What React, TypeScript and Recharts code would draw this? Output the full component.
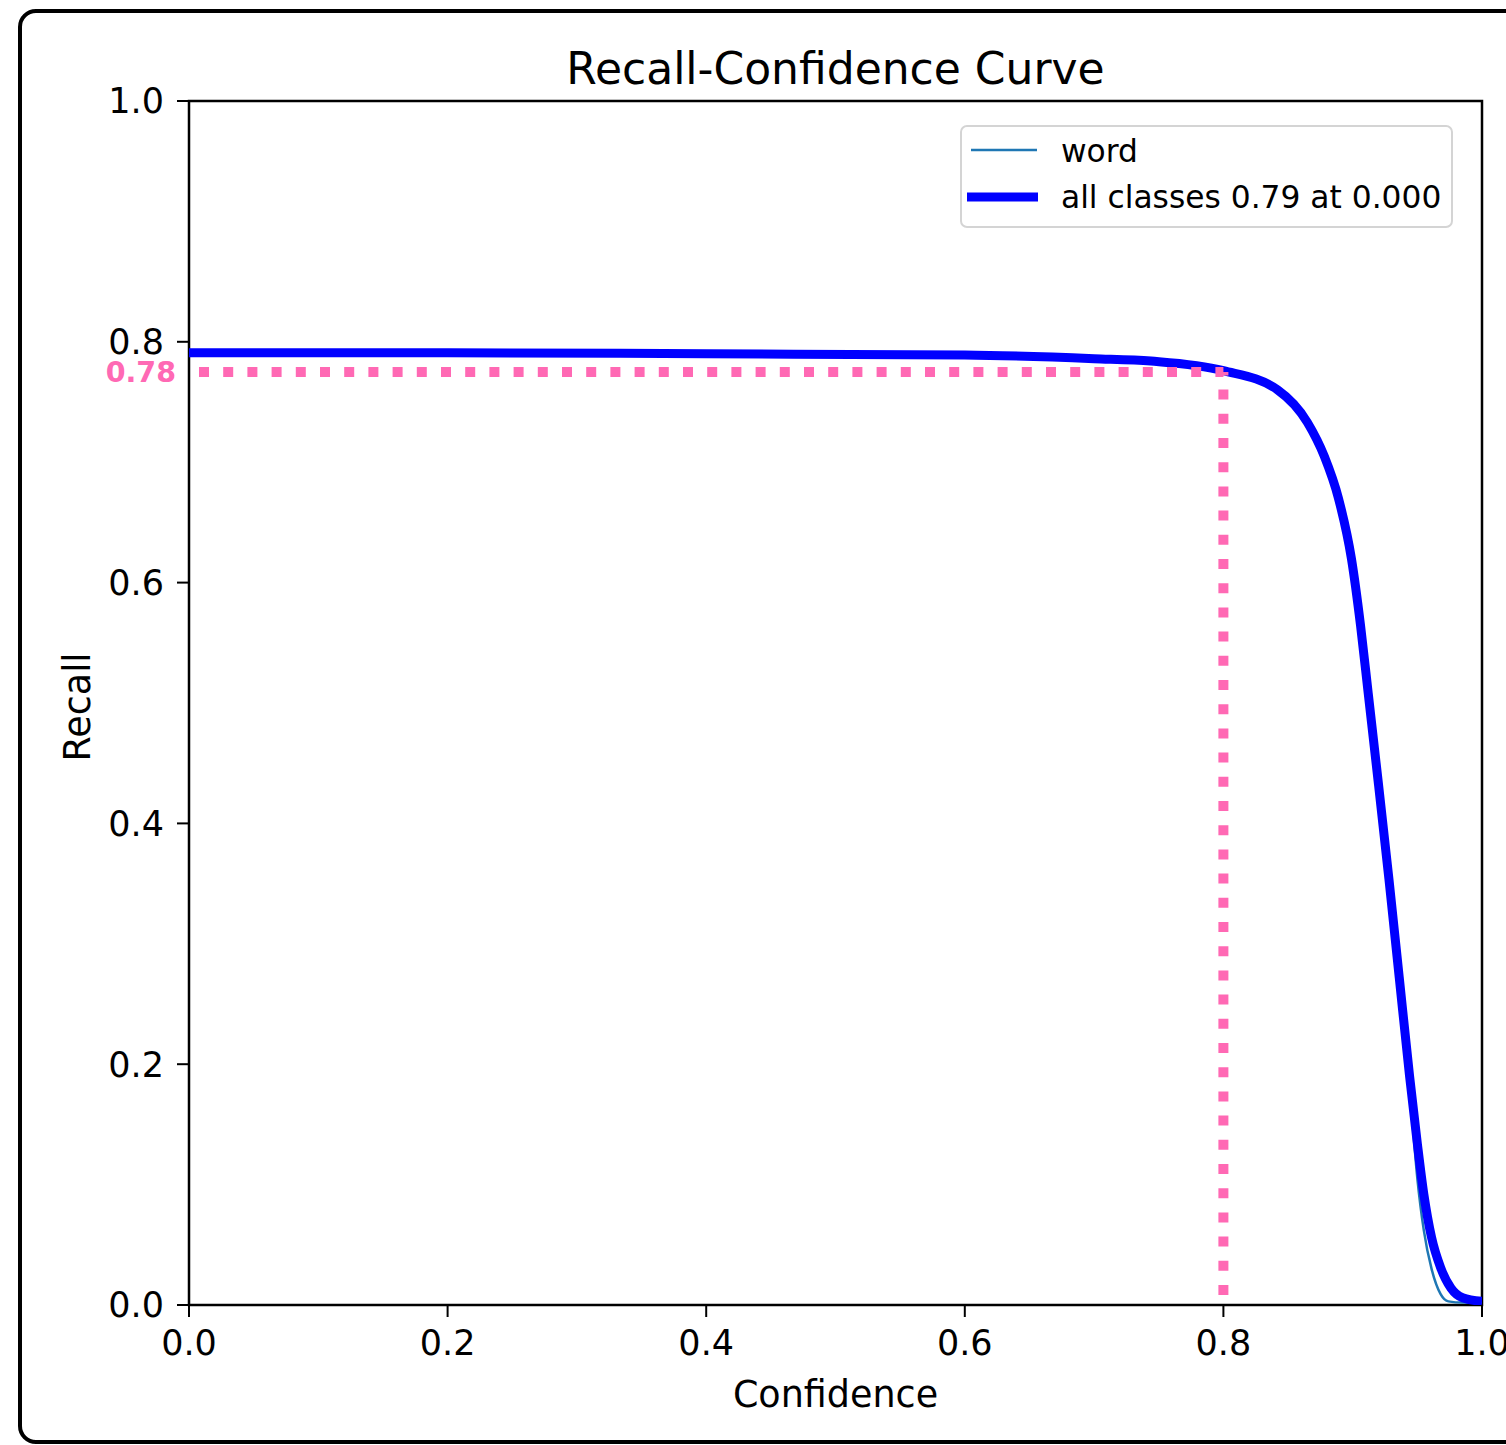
import React from "react";
import {
  LineChart,
  Line,
  XAxis,
  YAxis,
  Legend,
  ReferenceLine,
  ReferenceArea,
} from "recharts";

const FONT = '"DejaVu Sans", sans-serif';

// all classes curve
const allConf = [
  0, 0.2, 0.4, 0.6, 0.7, 0.744, 0.8, 0.842, 0.865, 0.878, 0.889, 0.899, 0.906,
  0.912, 0.92, 0.928, 0.936, 0.944, 0.95, 0.955, 0.961, 0.968, 0.976, 0.985,
  1.0,
];
const allRecall = [
  0.791, 0.791, 0.79, 0.789, 0.786, 0.784, 0.776, 0.76, 0.733, 0.705, 0.67,
  0.62, 0.565, 0.508, 0.432, 0.354, 0.272, 0.19, 0.134, 0.092, 0.056, 0.031,
  0.014, 0.006, 0.003,
];

// "word" class curve
const wordConf = [
  0, 0.2, 0.4, 0.6, 0.7, 0.744, 0.8, 0.842, 0.865, 0.878, 0.889, 0.899, 0.906,
  0.912, 0.92, 0.928, 0.936, 0.944, 0.95, 0.955, 0.961, 0.968, 0.974, 0.985,
  1.0,
];
const wordRecall = [
  0.791, 0.791, 0.79, 0.789, 0.786, 0.784, 0.776, 0.761, 0.735, 0.708, 0.673,
  0.622, 0.566, 0.508, 0.432, 0.354, 0.27, 0.182, 0.105, 0.062, 0.03, 0.009,
  0.003, 0.002, 0.002,
];

const ticks = [0, 0.2, 0.4, 0.6, 0.8, 1.0];

const markConf = 0.8;
const markRecall = 0.775;
const markLabel = "0.78";

const allLabel = "all classes 0.79 at 0.000";
const wordLabel = "word";

const allData = allConf.map((c, i) => ({ c, r: allRecall[i] }));
const wordData = wordConf.map((c, i) => ({ c, r: wordRecall[i] }));

function LegendBox() {
  return (
    <svg width={493} height={103} style={{ display: "block" }}>
      <rect
        x={1}
        y={1}
        width={491}
        height={101}
        rx={6}
        fill="#fff"
        stroke="#d4d4d4"
        strokeWidth={2}
      />
      <line x1={11} x2={77} y1={25} y2={25} stroke="#1f77b4" strokeWidth={2.5} />
      <text x={101} y={37} fontSize={31.3} fontFamily={FONT} fill="#000">
        {wordLabel}
      </text>
      <line x1={7} x2={78} y1={72} y2={72} stroke="#0000ff" strokeWidth={9} />
      <text x={101} y={83} fontSize={31.3} fontFamily={FONT} fill="#000">
        {allLabel}
      </text>
    </svg>
  );
}

export default function App() {
  const tickStyle = { fontSize: 35, fontFamily: FONT, fill: "#000" };
  return (
    <div
      style={{
        position: "absolute",
        left: 0,
        top: 0,
        width: 1506,
        height: 1445,
        overflow: "hidden",
        background: "#fff",
      }}
    >
      <div
        style={{
          position: "absolute",
          left: 18,
          top: 9,
          width: 1560,
          height: 1435,
          boxSizing: "border-box",
          border: "4px solid #000",
          borderRadius: 18,
        }}
      />
      <div
        style={{
          position: "absolute",
          left: 189,
          width: 1293,
          top: 47,
          textAlign: "center",
          fontFamily: FONT,
          fontSize: 44,
          lineHeight: 1,
          color: "#000",
        }}
      >
        Recall-Confidence Curve
      </div>
      <div style={{ position: "absolute", left: 0, top: 0 }}>
        <LineChart
          width={1560}
          height={1445}
          margin={{ top: 101, right: 78, left: 109, bottom: 80 }}
        >
          <XAxis
            type="number"
            dataKey="c"
            domain={[0, 1]}
            ticks={ticks}
            allowDataOverflow
            height={60}
            tickFormatter={(v) => v.toFixed(1)}
            tick={tickStyle}
            tickSize={12}
            tickMargin={13}
            tickLine={{ stroke: "#000", strokeWidth: 2 }}
            axisLine={false}
            label={{
              content: (p: any) => {
                const vb = p.viewBox;
                return (
                  <text
                    x={vb.x + vb.width / 2}
                    y={vb.y + 102}
                    textAnchor="middle"
                    fontSize={36.5}
                    fontFamily={FONT}
                    fill="#000"
                  >
                    Confidence
                  </text>
                );
              },
            }}
          />
          <YAxis
            type="number"
            dataKey="r"
            domain={[0, 1]}
            ticks={ticks}
            allowDataOverflow
            width={80}
            tickFormatter={(v) => v.toFixed(1)}
            tick={tickStyle}
            tickSize={12}
            tickMargin={13}
            tickLine={{ stroke: "#000", strokeWidth: 2 }}
            axisLine={false}
            label={{
              content: (p: any) => {
                const vb = p.viewBox;
                const cy = vb.y + vb.height / 2 + 4;
                return (
                  <text
                    x={90}
                    y={cy}
                    textAnchor="middle"
                    fontSize={36.5}
                    fontFamily={FONT}
                    fill="#000"
                    transform={`rotate(-90 90 ${cy})`}
                  >
                    Recall
                  </text>
                );
              },
            }}
          />
          <Line
            data={wordData}
            dataKey="r"
            type="monotone"
            stroke="#1f77b4"
            strokeWidth={2.5}
            dot={false}
            activeDot={false}
            isAnimationActive={false}
          />
          <Line
            data={allData}
            dataKey="r"
            type="monotone"
            stroke="#0000ff"
            strokeWidth={9}
            dot={false}
            activeDot={false}
            isAnimationActive={false}
          />
          <ReferenceLine
            segment={[
              { x: 0, y: markRecall },
              { x: markConf, y: markRecall },
            ]}
            stroke="#ff69b4"
            strokeWidth={10}
            strokeDasharray="10 14.2"
            strokeDashoffset={14.2}
            label={{
              value: markLabel,
              position: "left",
              offset: 13,
              fill: "#ff69b4",
              fontSize: 28.5,
              fontWeight: "bold",
              fontFamily: FONT,
            }}
          />
          <ReferenceLine
            segment={[
              { x: markConf, y: 0 },
              { x: markConf, y: markRecall },
            ]}
            stroke="#ff69b4"
            strokeWidth={10}
            strokeDasharray="10 14.2"
            strokeDashoffset={14.2}
          />
          <ReferenceArea
            x1={0}
            x2={1}
            y1={0}
            y2={1}
            fill="none"
            stroke="#000"
            strokeWidth={2.5}
          />
          <Legend
            layout="horizontal"
            align="center"
            verticalAlign="middle"
            wrapperStyle={{ left: 960, top: 125, width: 493 }}
            content={() => <LegendBox />}
          />
        </LineChart>
      </div>
    </div>
  );
}
